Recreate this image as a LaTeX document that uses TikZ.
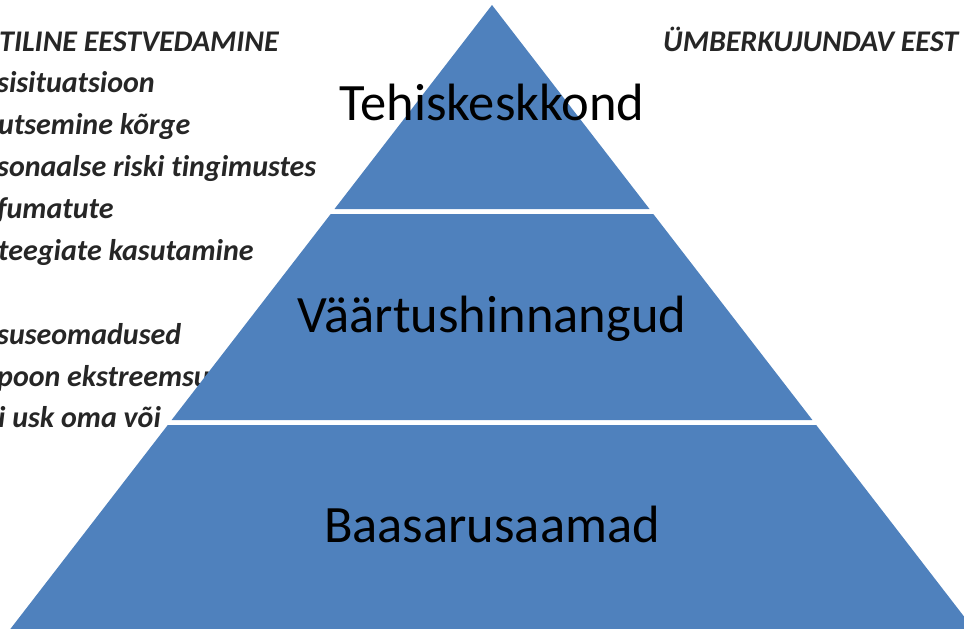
\documentclass[tikz,border=0pt]{standalone}
\usepackage{fontspec}
\setmainfont{Carlito}[Ligatures=NoCommon]
\definecolor{pyrblue}{HTML}{4F81BD}
\definecolor{sidetext}{HTML}{262626}
\begin{document}
\begin{tikzpicture}[x=1pt,y=-1pt,
  tier/.style={fill=pyrblue,draw=none},
  sidelabel/.style={anchor=base west,inner sep=0pt,text=sidetext,font=\fontsize{30}{30}\selectfont\bfseries\itshape},
  tierlabel/.style={anchor=base,inner sep=0pt,text=black,font=\fontsize{52.5}{52.5}\selectfont}]
\useasboundingbox (0,0) rectangle (964,629);
\clip (0,0) rectangle (964,629);
% side texts (behind the pyramid)
\node[sidelabel] (l1) at (-1,51) {TILINE EESTVEDAMINE};
\node[sidelabel] (l2) at (-3,92) {sisituatsioon};
\node[sidelabel] (l3) at (-2,134) {utsemine kõrge};
\node[sidelabel] (l4) at (-3,176) {sonaalse riski tingimustes};
\node[sidelabel] (l5) at (-3,218) {fumatute};
\node[sidelabel] (l6) at (-2,260) {teegiate kasutamine};
\node[sidelabel] (l7) at (-3,344) {suseomadused};
\node[sidelabel] (l8) at (-3,386) {poon ekstreemsus};
\node[sidelabel] (l9) at (-2,427) {i usk oma või};
\node[sidelabel] (r1) at (663,51) {ÜMBERKUJUNDAV EEST};
% pyramid tiers
\fill[tier] (492,5) -- (649.5,209) -- (334.5,209) -- cycle;
\fill[tier] (330.7,214) -- (653.3,214) -- (812.4,420) -- (171.6,420) -- cycle;
\fill[tier] (167.8,425) -- (816.2,425) -- (986,645) -- (-2,645) -- cycle;
% tier labels
\node[tierlabel] (t1) at (492,120) {Tehiskeskkond};
\node[tierlabel] (t2) at (492,332) {Väärtushinnangud};
\node[tierlabel] (t3) at (492,542) {Baasarusaamad};
\end{tikzpicture}
\end{document}
